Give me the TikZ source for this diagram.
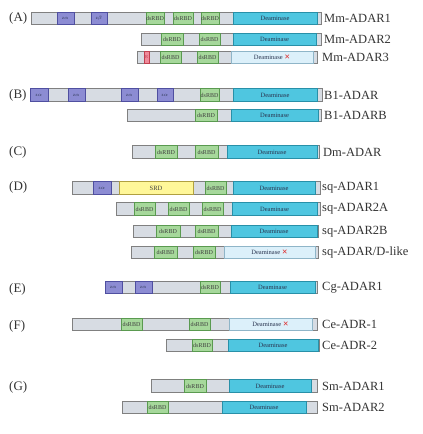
\documentclass[tikz,border=0pt]{standalone}
\usepackage{fontspec}
\setmainfont{Liberation Serif}
\newfontfamily\symf{DejaVu Sans}
\definecolor{barfill}{HTML}{D7DCE3}
\definecolor{barline}{HTML}{808080}
\definecolor{zafill}{HTML}{8C8CD3}
\definecolor{zaline}{HTML}{4F4FA0}
\definecolor{dsfill}{HTML}{A6D89B}
\definecolor{dsline}{HTML}{5A9A50}
\definecolor{defill}{HTML}{4FC6E0}
\definecolor{deline}{HTML}{2890A8}
\definecolor{offfill}{HTML}{DCF0FA}
\definecolor{offline}{HTML}{8FB5C8}
\definecolor{srdfill}{HTML}{FFF799}
\definecolor{srdline}{HTML}{B0A040}
\definecolor{rfill}{HTML}{F08A9A}
\definecolor{rline}{HTML}{C04050}
\definecolor{xred}{HTML}{E03030}
\definecolor{txt}{HTML}{2A3550}
\tikzset{
  domainbox/.style={rectangle, inner sep=0pt, outer sep=0pt, minimum height=12.5pt, line width=0.6pt},
  pbar/.style={domainbox, fill=barfill, draw=barline},
  pza/.style={domainbox, fill=zafill, draw=zaline, font=\fontsize{4.5}{5}\selectfont, text=txt},
  pds/.style={domainbox, fill=dsfill, draw=dsline, font=\fontsize{6}{7}\selectfont, text=black!75},
  pde/.style={domainbox, fill=defill, draw=deline, font=\fontsize{6.5}{7}\selectfont, text=txt},
  pdeoff/.style={domainbox, fill=offfill, draw=offline, font=\fontsize{6.5}{7}\selectfont, text=txt},
  psrd/.style={domainbox, fill=srdfill, draw=srdline, font=\fontsize{6.5}{7}\selectfont, text=black!75},
  prr/.style={domainbox, fill=rfill, draw=rline, font=\fontsize{4.5}{5}\selectfont, text=rline},
  pname/.style={anchor=west, inner sep=0pt, font=\fontsize{12.5}{14}\selectfont, text=black!80},
  pgrp/.style={anchor=west, inner sep=0pt, font=\fontsize{13}{14}\selectfont, text=black!80}
}
\newcommand\dom[6]{%
  \pgfmathsetmacro\dw{#4-#3}%
  \pgfmathsetmacro\dx{(#3+#4)/2}%
  \node[#2, minimum width=\dw pt] (#1) at (\dx,#5) {#6};}
\newcommand\dead{Deaminase\ \textcolor{xred}{\symf\fontsize{7}{7}\selectfont ✕}}
\begin{document}
\begin{tikzpicture}[x=1pt,y=-1pt]
\useasboundingbox (0,0) rectangle (423,434);
% (A)
\node[pgrp] (gA) at (9,18.5) {(A)};
\dom{a1}{pbar}{31}{321}{18.5}{}
\dom{a1z1}{pza}{57}{74}{18.5}{z$\alpha$}
\dom{a1z2}{pza}{91}{107}{18.5}{z$\beta$}
\dom{a1d1}{pds}{146}{164}{18.5}{dsRBD}
\dom{a1d2}{pds}{173}{193}{18.5}{dsRBD}
\dom{a1d3}{pds}{201}{219}{18.5}{dsRBD}
\dom{a1e}{pde}{233}{317}{18.5}{Deaminase}
\node[pname] (na1) at (324,18.5) {Mm-ADAR1};

\dom{a2}{pbar}{141}{321}{39.5}{}
\dom{a2d1}{pds}{161}{183}{39.5}{dsRBD}
\dom{a2d2}{pds}{199}{220}{39.5}{dsRBD}
\dom{a2e}{pde}{233}{316}{39.5}{Deaminase}
\node[pname] (na2) at (324,39.5) {Mm-ADAR2};

\dom{a3}{pbar}{137}{317}{57.5}{}
\dom{a3r}{prr}{144}{149}{57.5}{R}
\dom{a3d1}{pds}{160}{181}{57.5}{dsRBD}
\dom{a3d2}{pds}{197}{218}{57.5}{dsRBD}
\dom{a3e}{pdeoff}{231}{313}{57.5}{\dead}
\node[pname] (na3) at (322,57.5) {Mm-ADAR3};

% (B)
\node[pgrp] (gB) at (9,95) {(B)};
\dom{b1}{pbar}{30}{322}{95}{}
\dom{b1z1}{pza}{30}{48}{95}{z$\alpha$}
\dom{b1z2}{pza}{68}{85}{95}{z$\alpha$}
\dom{b1z3}{pza}{121}{138}{95}{z$\alpha$}
\dom{b1z4}{pza}{157}{173}{95}{z$\alpha$}
\dom{b1d1}{pds}{200}{219}{95}{dsRBD}
\dom{b1e}{pde}{233}{317}{95}{Deaminase}
\node[pname] (nb1) at (324,95) {B1-ADAR};

\dom{b2}{pbar}{127}{321}{115.5}{}
\dom{b2d1}{pds}{195}{217}{115.5}{dsRBD}
\dom{b2e}{pde}{231}{318}{115.5}{Deaminase}
\node[pname] (nb2) at (324,115.5) {B1-ADARB};

% (C)
\node[pgrp] (gC) at (9,152) {(C)};
\dom{c1}{pbar}{132}{319}{152}{}
\dom{c1d1}{pds}{155}{177}{152}{dsRBD}
\dom{c1d2}{pds}{195}{218}{152}{dsRBD}
\dom{c1e}{pde}{227}{317}{152}{Deaminase}
\node[pname] (nc1) at (323,152) {Dm-ADAR};

% (D)
\node[pgrp] (gD) at (9,187) {(D)};
\dom{d1}{pbar}{72}{320}{188}{}
\dom{d1z}{pza}{93}{111}{188}{z$\alpha$}
\dom{d1s}{psrd}{119}{193}{188}{SRD}
\dom{d1d1}{pds}{205}{226}{188}{dsRBD}
\dom{d1e}{pde}{233}{315}{188}{Deaminase}
\node[pname] (nd1) at (322,188) {sq-ADAR1};

\dom{d2}{pbar}{116}{320}{209}{}
\dom{d2d1}{pds}{134}{155}{209}{dsRBD}
\dom{d2d2}{pds}{168}{189}{209}{dsRBD}
\dom{d2d3}{pds}{202}{223}{209}{dsRBD}
\dom{d2e}{pde}{232}{317}{209}{Deaminase}
\node[pname] (nd2) at (322,209) {sq-ADAR2A};

\dom{d3}{pbar}{133}{318}{231.5}{}
\dom{d3d1}{pds}{156}{180}{231.5}{dsRBD}
\dom{d3d2}{pds}{195}{218}{231.5}{dsRBD}
\dom{d3e}{pde}{231}{317}{231.5}{Deaminase}
\node[pname] (nd3) at (322,231.5) {sq-ADAR2B};

\dom{d4}{pbar}{131}{318}{252.5}{}
\dom{d4d1}{pds}{154}{177}{252.5}{dsRBD}
\dom{d4d2}{pds}{193}{215}{252.5}{dsRBD}
\dom{d4e}{pdeoff}{224}{315}{252.5}{\dead}
\node[pname] (nd4) at (322,252.5) {sq-ADAR/D-like};

% (E)
\node[pgrp] (gE) at (9,289) {(E)};
\dom{e1}{pbar}{105}{317}{287.5}{}
\dom{e1z1}{pza}{105}{122}{287.5}{z$\alpha$}
\dom{e1z2}{pza}{135}{152}{287.5}{z$\alpha$}
\dom{e1d1}{pds}{200}{220}{287.5}{dsRBD}
\dom{e1e}{pde}{230}{315}{287.5}{Deaminase}
\node[pname] (ne1) at (322,287.5) {Cg-ADAR1};

% (F)
\node[pgrp] (gF) at (9,326) {(F)};
\dom{f1}{pbar}{72}{317}{324.5}{}
\dom{f1d1}{pds}{121}{142}{324.5}{dsRBD}
\dom{f1d2}{pds}{189}{210}{324.5}{dsRBD}
\dom{f1e}{pdeoff}{229}{312}{324.5}{\dead}
\node[pname] (nf1) at (322,324.5) {Ce-ADR-1};

\dom{f2}{pbar}{166}{319}{345.5}{}
\dom{f2d1}{pds}{192}{212}{345.5}{dsRBD}
\dom{f2e}{pde}{228}{318}{345.5}{Deaminase}
\node[pname] (nf2) at (322,345.5) {Ce-ADR-2};

% (G)
\node[pgrp] (gG) at (9,387) {(G)};
\dom{g1}{pbar}{151}{317}{386}{}
\dom{g1d1}{pds}{184}{206}{386}{dsRBD}
\dom{g1e}{pde}{229}{311}{386}{Deaminase}
\node[pname] (ng1) at (322,386) {Sm-ADAR1};

\dom{g2}{pbar}{122}{317}{407.5}{}
\dom{g2d1}{pds}{147}{168}{407.5}{dsRBD}
\dom{g2e}{pde}{222}{306}{407.5}{Deaminase}
\node[pname] (ng2) at (322,407.5) {Sm-ADAR2};
\end{tikzpicture}
\end{document}
